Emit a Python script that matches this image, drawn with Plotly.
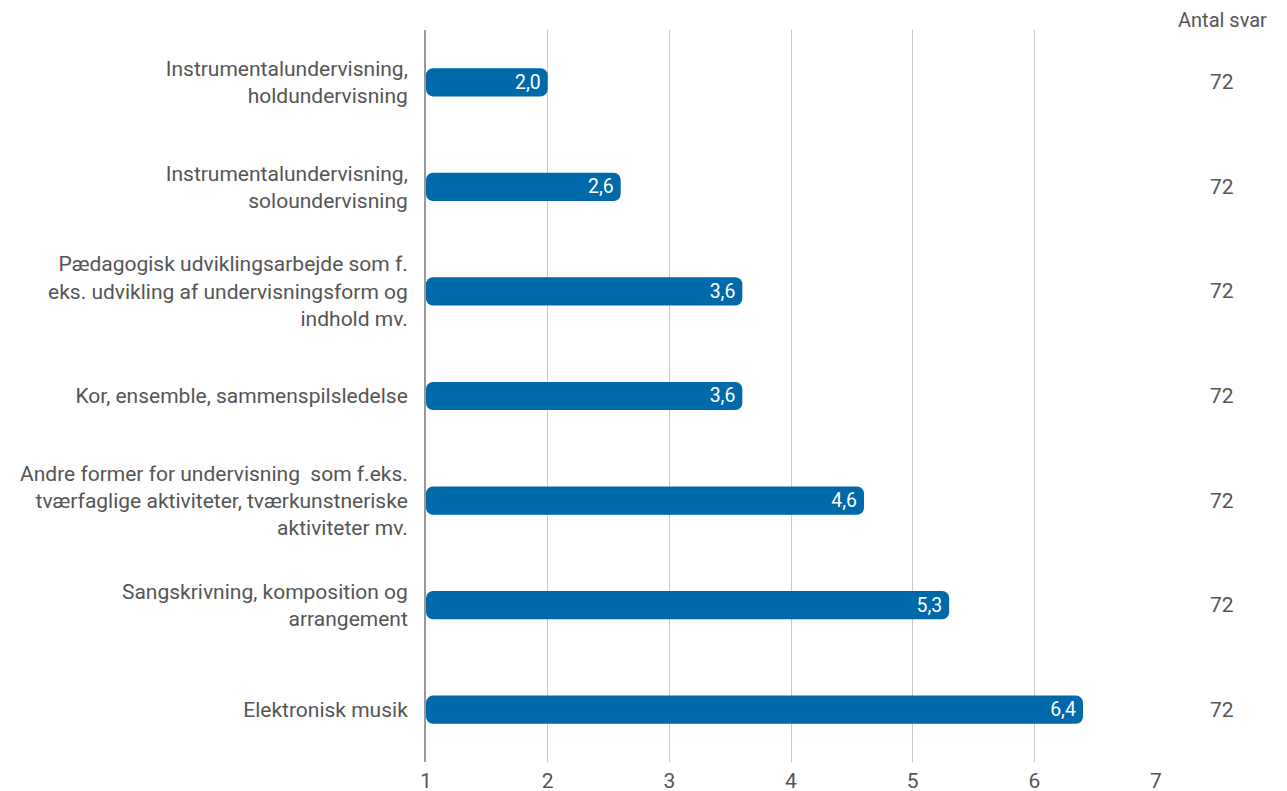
import plotly.graph_objects as go

categories = [
    "Instrumentalundervisning,<br>holdundervisning",
    "Instrumentalundervisning,<br>soloundervisning",
    "Pædagogisk udviklingsarbejde som f.<br>eks. udvikling af undervisningsform og<br>indhold mv.",
    "Kor, ensemble, sammenspilsledelse",
    "Andre former for undervisning  som f.eks.<br>tværfaglige aktiviteter, tværkunstneriske<br>aktiviteter mv.",
    "Sangskrivning, komposition og<br>arrangement",
    "Elektronisk musik",
]
values = [2.0, 2.6, 3.6, 3.6, 4.6, 5.3, 6.4]
antal_svar = [72, 72, 72, 72, 72, 72, 72]
x_ticks = [1, 2, 3, 4, 5, 6, 7]

BASE = 1
FONT = "Roboto"
GREY = "#555555"
BLUE = "#0069AA"
FS = 21

fig = go.Figure()
fig.add_trace(go.Bar(
    y=categories,
    x=[v - BASE for v in values],
    base=BASE,
    orientation="h",
    width=0.27,
    marker=dict(color=BLUE, line=dict(width=0)),
    text=[f"{v:.1f}".replace(".", ",") for v in values],
    textposition="inside",
    insidetextanchor="end",
    textfont=dict(family=FONT, size=FS, color="white"),
    hoverinfo="skip",
))

for cat, n in zip(categories, antal_svar):
    fig.add_annotation(x=1.0, xref="paper", xanchor="center", xshift=66,
                       y=cat, yref="y", text=str(n), showarrow=False,
                       font=dict(family=FONT, size=FS, color=GREY))
fig.add_annotation(x=1.0, xref="paper", xanchor="left", xshift=20,
                   y=1.0, yref="paper", yanchor="middle", yshift=10,
                   text="Antal svar", showarrow=False,
                   font=dict(family=FONT, size=FS - 1, color=GREY))

fig.update_layout(
    width=1287, height=791,
    margin=dict(l=418, r=139, t=22, b=37, autoexpand=False),
    paper_bgcolor="white", plot_bgcolor="white",
    showlegend=False,
    barcornerradius=7,
    font=dict(family=FONT, size=FS, color=GREY),
    xaxis=dict(range=[1, 7], tickvals=x_ticks, showgrid=True,
               gridcolor="#c8c8c8", gridwidth=1, zeroline=False,
               showline=False, ticks="", ticklabelstandoff=4,
               automargin=False,
               tickfont=dict(size=FS, color=GREY)),
    yaxis=dict(categoryorder="array", categoryarray=categories,
               autorange="reversed", showgrid=False, zeroline=False,
               showline=True, linecolor="#999999", linewidth=2,
               ticks="", ticklabelstandoff=12, automargin=False,
               tickfont=dict(size=FS, color=GREY)),
)

fig.write_html("out.html")
